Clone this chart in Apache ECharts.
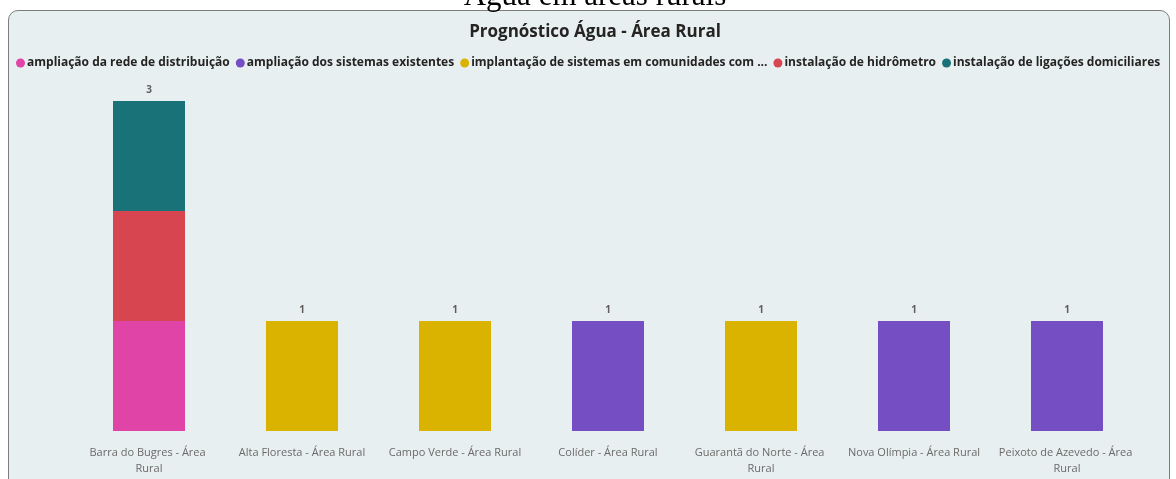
<!DOCTYPE html>
<html>
<head>
<meta charset="utf-8">
<script src="https://cdn.jsdelivr.net/npm/echarts@6/dist/echarts.min.js"></script>
<style>
  html, body { margin: 0; padding: 0; background: #ffffff; overflow: hidden; }
  #page { position: relative; width: 1176px; height: 479px; overflow: hidden; }
  #heading {
    position: absolute; left: 0; top: -21px; width: 1190px; text-align: center; z-index: 2;
    font-family: "Liberation Serif", serif; font-size: 31px; line-height: 31px; color: #000;
  }
  #panel {
    position: absolute; left: 8px; top: 10px; width: 1160px; height: 480px;
    background: #e8eff1; border: 1.5px solid #7d7d7d; border-radius: 10px;
  }
  #chart { position: absolute; left: 0; top: 0; width: 1176px; height: 479px; z-index: 1; }
</style>
</head>
<body>
<div id="page">
  <div id="panel"></div>
  <div id="chart"></div>
  <div id="heading">Água em áreas rurais</div>
</div>
<script>
// Municipalities (x axis)
const categories = [
  "Barra do Bugres - Área Rural",
  "Alta Floresta - Área Rural",
  "Campo Verde - Área Rural",
  "Colíder - Área Rural",
  "Guarantã do Norte - Área Rural",
  "Nova Olímpia - Área Rural",
  "Peixoto de Azevedo - Área Rural"
];

// Actions per municipality
const ampliacaoRede      = [1, null, null, null, null, null, null];
const ampliacaoSistemas  = [null, null, null, 1, null, 1, 1];
const implantacao        = [null, 1, 1, null, 1, null, null];
const hidrometro         = [1, null, null, null, null, null, null];
const ligacoes           = [1, null, null, null, null, null, null];

const seriesNames = [
  "ampliação da rede de distribuição",
  "ampliação dos sistemas existentes",
  "implantação de sistemas em comunidades com ...",
  "instalação de hidrômetro",
  "instalação de ligações domiciliares"
];
const seriesValues = [ampliacaoRede, ampliacaoSistemas, implantacao, hidrometro, ligacoes];
const seriesColors = ["#e044a7", "#744ec2", "#d9b300", "#d64550", "#197278"];

const totals = categories.map((_, i) =>
  seriesValues.reduce((s, arr) => s + (arr[i] || 0), 0));

const chart = echarts.init(document.getElementById('chart'), null, { renderer: 'canvas' });

const font = '"Open Sans", "Noto Sans", sans-serif';

const series = seriesNames.map((name, k) => ({
  name,
  type: 'bar',
  stack: 'total',
  barWidth: 72,
  itemStyle: { color: seriesColors[k] },
  emphasis: { disabled: true },
  data: seriesValues[k]
}));

// zero-height bar on top of each stack, carrying the total label
series.push({
  name: 'total',
  type: 'bar',
  stack: 'total',
  barWidth: 72,
  itemStyle: { color: 'transparent' },
  label: {
    show: true, position: 'top', distance: 6,
    color: '#605e5c', fontFamily: font, fontSize: 10, fontWeight: 'bold',
    formatter: p => totals[p.dataIndex]
  },
  data: totals.map(() => 0)
});

chart.setOption({
  animation: false,
  backgroundColor: 'transparent',
  title: {
    text: 'Prognóstico Água - Área Rural',
    left: 590, top: 19, textAlign: 'center',
    textStyle: { fontFamily: font, fontSize: 17, fontWeight: 'bold', color: '#252423' }
  },
  legend: {
    data: seriesNames,
    left: 11, top: 52,
    icon: 'circle', itemWidth: 9, itemHeight: 9, itemGap: 6,
    textStyle: { fontFamily: font, fontSize: 12, fontWeight: 'bold', color: '#252423', padding: [0, 0, 0, -3] }
  },
  grid: { left: 72.5, right: 32.5, top: 101, bottom: 48, containLabel: false },
  xAxis: {
    type: 'category',
    data: categories,
    axisLine: { show: false },
    axisTick: { show: false },
    axisLabel: {
      interval: 0, margin: 14,
      width: 147, overflow: 'break', lineHeight: 16,
      color: '#6b6a68', fontFamily: font, fontSize: 11
    }
  },
  yAxis: {
    type: 'value', min: 0, max: 3, interval: 1,
    show: false, splitLine: { show: false }
  },
  series
});
</script>
</body>
</html>
